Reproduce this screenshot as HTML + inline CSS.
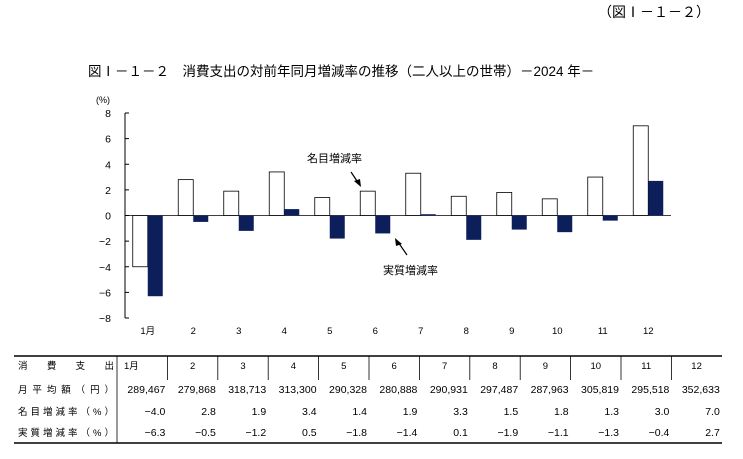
<!DOCTYPE html>
<html><head><meta charset="utf-8">
<style>
body{margin:0;background:#fff;width:743px;height:454px;overflow:hidden;font-family:"Liberation Sans","Noto Sans CJK JP",sans-serif;}
svg text{font-family:"Liberation Sans","Noto Sans CJK JP",sans-serif;}
</style></head><body>
<svg id="c" width="743" height="454">
<text x="710" y="17" font-size="14" text-anchor="end" font-family="Liberation Serif,Noto Serif CJK SC,serif">（図Ⅰ－１－２）</text>
<text x="88" y="76" font-size="13.5">図Ⅰ－１－２　消費支出の対前年同月増減率の推移（二人以上の世帯）－2024 年－</text>
<text x="96" y="103" font-size="9">(%)</text>
<g id="axes"></g><g id="bars"></g>
<text x="307" y="162" font-size="11">名目増減率</text>
<line x1="351" y1="172" x2="359" y2="184" stroke="#000" stroke-width="1.2"/>
<polygon points="361,187 354,181 360,179" fill="#000"/>
<text x="383" y="274" font-size="11">実質増減率</text>
<line x1="407" y1="255" x2="398" y2="242" stroke="#000" stroke-width="1.2"/>
<polygon points="395,238 402,244 396,246" fill="#000"/>
<g id="table"></g>
</svg>
<script>
const months=["1月","2","3","4","5","6","7","8","9","10","11","12"];
const nominal=[-4.0,2.8,1.9,3.4,1.4,1.9,3.3,1.5,1.8,1.3,3.0,7.0];
const real=[-6.3,-0.5,-1.2,0.5,-1.8,-1.4,0.1,-1.9,-1.1,-1.3,-0.4,2.7];
const spending=["289,467","279,868","318,713","313,300","290,328","280,888","290,931","297,487","287,963","305,819","295,518","352,633"];
const yTicks=[8,6,4,2,0,-2,-4,-6,-8];
const NS="http://www.w3.org/2000/svg";
function mk(tag,attrs,parent,text){const e=document.createElementNS(NS,tag);for(const k in attrs)e.setAttribute(k,attrs[k]);if(text!==undefined)e.textContent=text;parent.appendChild(e);return e;}
const x0=125,step=45.5,yTop=113,yBot=318;
const y=v=>yTop+(8-v)*(yBot-yTop)/16;
const cx=i=>x0+step*(i+0.5);
const ax=document.getElementById('axes'),bg=document.getElementById('bars'),tb=document.getElementById('table');
let e=mk('line',{x1:x0,y1:yTop,x2:x0,y2:yBot,stroke:'#000','stroke-width':1},ax);

yTicks.forEach(t=>{let l=mk('line',{x1:x0,y1:y(t),x2:x0+4,y2:y(t),stroke:'#000'},ax);

let tx=mk('text',{x:x0-14,y:y(t)+4,'font-size':10.5,'text-anchor':'end'},ax,t<0?'−'+(-t):String(t));
});
months.forEach((m,i)=>{
 let n=nominal[i],r=real[i],w=15;
 let b=mk('rect',{x:cx(i)-w,y:Math.min(y(n),y(0)),width:w,height:Math.abs(y(n)-y(0)),fill:'#fff',stroke:'#000','stroke-width':0.8},bg);
 
 let d=mk('rect',{x:cx(i),y:Math.min(y(r),y(0)),width:w,height:Math.max(0.8,Math.abs(y(r)-y(0))),fill:'#0c1f5b'},bg);
 
 let lb=mk('text',{x:cx(i),y:334,'font-size':9.5,'text-anchor':'middle'},ax,m);
 
});
e=mk('line',{x1:x0,y1:y(0),x2:x0+step*12,y2:y(0),stroke:'#000','stroke-width':0.8},ax);

// table
const tx0=14,c0=117,cw=50.4,base=[369,393,415,436];
[356,443].forEach(yy=>{let l=mk('line',{x1:tx0,y1:yy,x2:722,y2:yy,stroke:'#000','stroke-width':1.5},tb);});
for(let k=0;k<12;k++){let l=mk('line',{x1:c0+cw*k,y1:356,x2:c0+cw*k,y2:k==0?443:380,stroke:'#000','stroke-width':0.8},tb);}
const heads=["消　費　支　出","月平均額（円）","名目増減率（%）","実質増減率（%）"];
heads.forEach((h,r)=>{let t=mk('text',{x:tx0+4,y:base[r],'font-size':9.5,textLength:96,lengthAdjust:'spacing'},tb,h);});
const fmt=v=>(v<0?'−':'')+Math.abs(v).toFixed(1);
months.forEach((m,i)=>{
 let t=mk('text',{x:c0+cw*i+(i==0?7:cw/2),y:base[0],'font-size':9.5,'text-anchor':i==0?'start':'middle'},tb,m);
 
 t=mk('text',{x:c0+cw*(i+1)-2,y:base[1],'font-size':10.5,'text-anchor':'end'},tb,spending[i]);
 
 t=mk('text',{x:c0+cw*(i+1)-2,y:base[2],'font-size':10.5,'text-anchor':'end'},tb,fmt(nominal[i]));
 
 t=mk('text',{x:c0+cw*(i+1)-2,y:base[3],'font-size':10.5,'text-anchor':'end'},tb,fmt(real[i]));
 
});
</script>
</body></html>
